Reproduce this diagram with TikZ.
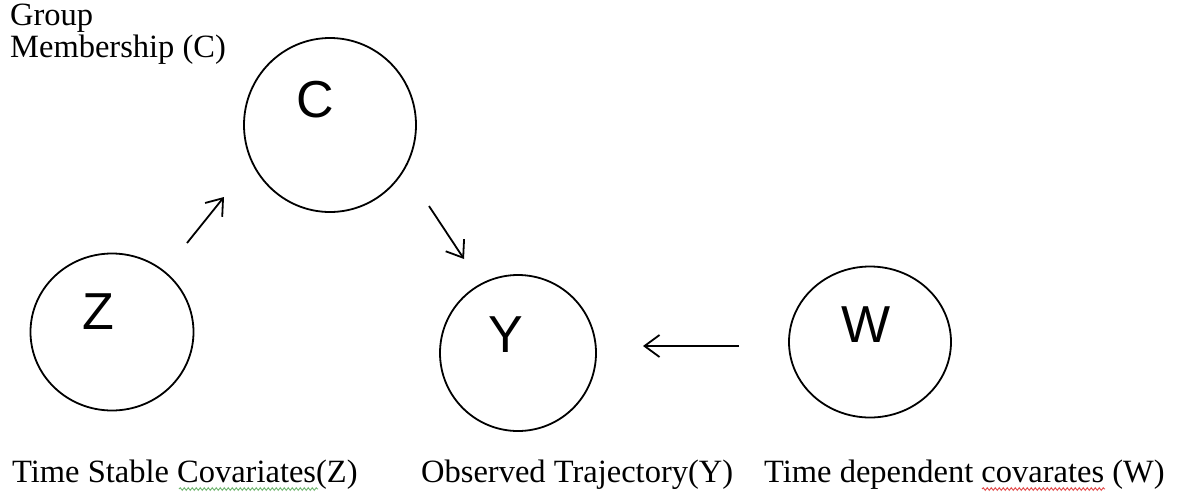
\documentclass[tikz,border=0pt]{standalone}
\usepackage{fontspec}
\setmainfont{Liberation Serif}
\newfontfamily\letterfont{Liberation Sans}
\usetikzlibrary{arrows.meta,shapes.geometric,decorations.pathmorphing}

\definecolor{spellgreen}{RGB}{110,180,110}
\definecolor{spellred}{RGB}{225,70,70}

\tikzset{
  ring/.style={draw, ellipse, line width=1.8pt, inner sep=0pt},
  sym/.style={font=\letterfont\fontsize{52}{52}\selectfont, inner sep=0pt},
  lbl/.style={font=\fontsize{32.5}{32}\selectfont, inner sep=0pt, anchor=base west},
  arr/.style={line width=1.8pt, -{Straight Barb[length=15pt,width=22pt]}},
  squig/.style={line width=0.9pt, decorate, decoration={snake, amplitude=1.3pt, segment length=4pt}},
}

\begin{document}
\begin{tikzpicture}[x=1pt,y=-1pt]
  \useasboundingbox (0,0) rectangle (1178,496);

  %–– Circles ––
  \node[ring, minimum width=172pt, minimum height=174pt] (C) at (330,125) {};
  \node[ring, minimum width=163pt, minimum height=157pt] (Z) at (112,332) {};
  \node[ring, minimum width=156pt, minimum height=156pt] (Y) at (518,353) {};
  \node[ring, minimum width=162pt, minimum height=151pt] (W) at (870,342) {};

  %–– Letters ––
  \node[sym] (c-sym) at (315,100) {C};
  \node[sym] (z-sym) at (98,312) {Z};
  \node[sym] (y-sym) at (506,335) {Y};
  \node[sym] (w-sym) at (866,325) {W};

  %–– Arrows ––
  \coordinate (zc-tail) at ([shift={(75,-89)}]Z.center);
  \coordinate (zc-head) at ([shift={(-106,72)}]C.center);
  \coordinate (cy-tail) at ([shift={(99,81)}]C.center);
  \coordinate (cy-head) at ([shift={(-54,-94)}]Y.center);
  \coordinate (wy-tail) at ([shift={(-131,4)}]W.center);
  \coordinate (wy-head) at ([shift={(125,-7)}]Y.center);
  \draw[arr] (zc-tail) -- (zc-head);
  \draw[arr] (cy-tail) -- (cy-head);
  \draw[arr] (wy-tail) -- (wy-head);

  %–– Labels ––
  \node[lbl, anchor=north west, align=left] (group) at (10,4) {Group\\Membership (C)};
  \node[lbl] (z-lbl) at (12,482) {Time Stable Covariates(Z)};
  \node[lbl] (y-lbl) at (421,482) {Observed Trajectory(Y)};
  \node[lbl] (w-lbl) at (764,482) {Time dependent covarates (W)};

  %–– Spelling marks ––
  \draw[squig, spellgreen] (179,489) -- (318,489);
  \draw[squig, spellred] (982,489) -- (1105,489);
\end{tikzpicture}
\end{document}
